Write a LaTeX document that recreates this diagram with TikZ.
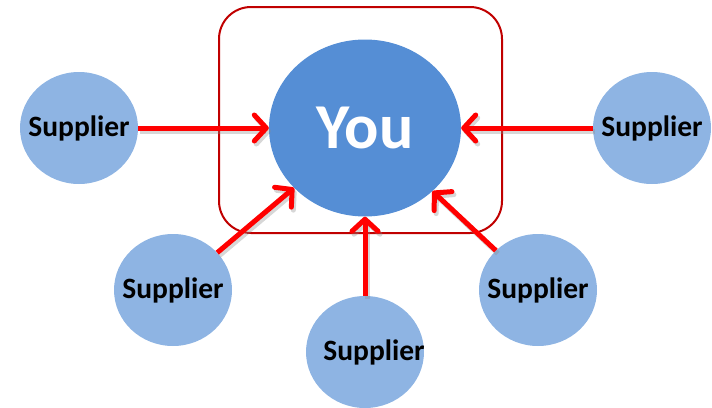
\documentclass[tikz,border=0pt]{standalone}
\usepackage{fontspec}
\setmainfont{Carlito}
\usetikzlibrary{shapes.geometric,arrows.meta,positioning}
\definecolor{youblue}{HTML}{558ED5}
\definecolor{supblue}{HTML}{8EB4E3}
\definecolor{boxred}{HTML}{C00000}
\newcommand{\supname}{\makebox[0pt]{Supplier}}
\begin{document}
\begin{tikzpicture}[x=1pt,y=-1pt,
    sup/.style={ellipse,fill=supblue,minimum width=118pt,minimum height=112pt,
      inner sep=0pt,font=\bfseries\fontsize{29.5}{30}\selectfont},
    feed/.style={draw=red,line width=5pt,
      -{Straight Barb[length=12pt,width=26pt,line cap=round,line join=round]}},
    feedshadow/.style={feed,draw=black!45,opacity=0.35}]
 \useasboundingbox (0,0) rectangle (712,407);
 \node[draw=boxred,line width=2pt,rounded corners=32pt,minimum width=283pt,
   minimum height=226pt] (core) at (360.5,120) {};
 \node[ellipse,fill=youblue,minimum width=192pt,minimum height=177pt,inner sep=0pt,
   text=white,font=\bfseries\fontsize{64}{66}\selectfont] (you) at (365,128)
   {\makebox[0pt]{You}};
 \node[sup] (s1) at (79,128) {\supname};
 \node[sup] (s2) at (173,290) {\supname};
 \node[sup] (s3) at (365,352) {\hspace{18pt}\supname};
 \node[sup] (s4) at (538,290) {\supname};
 \node[sup] (s5) at (652,128) {\supname};
 % soft shadow under the arrows
 \begin{scope}[transform canvas={shift={(2pt,-3pt)}}]
  \foreach \X in {1,...,5} {\draw[feedshadow] (s\X) -- (you);}
 \end{scope}
 \foreach \X in {1,...,5} {\draw[feed] (s\X) -- (you);}
\end{tikzpicture}
\end{document}
